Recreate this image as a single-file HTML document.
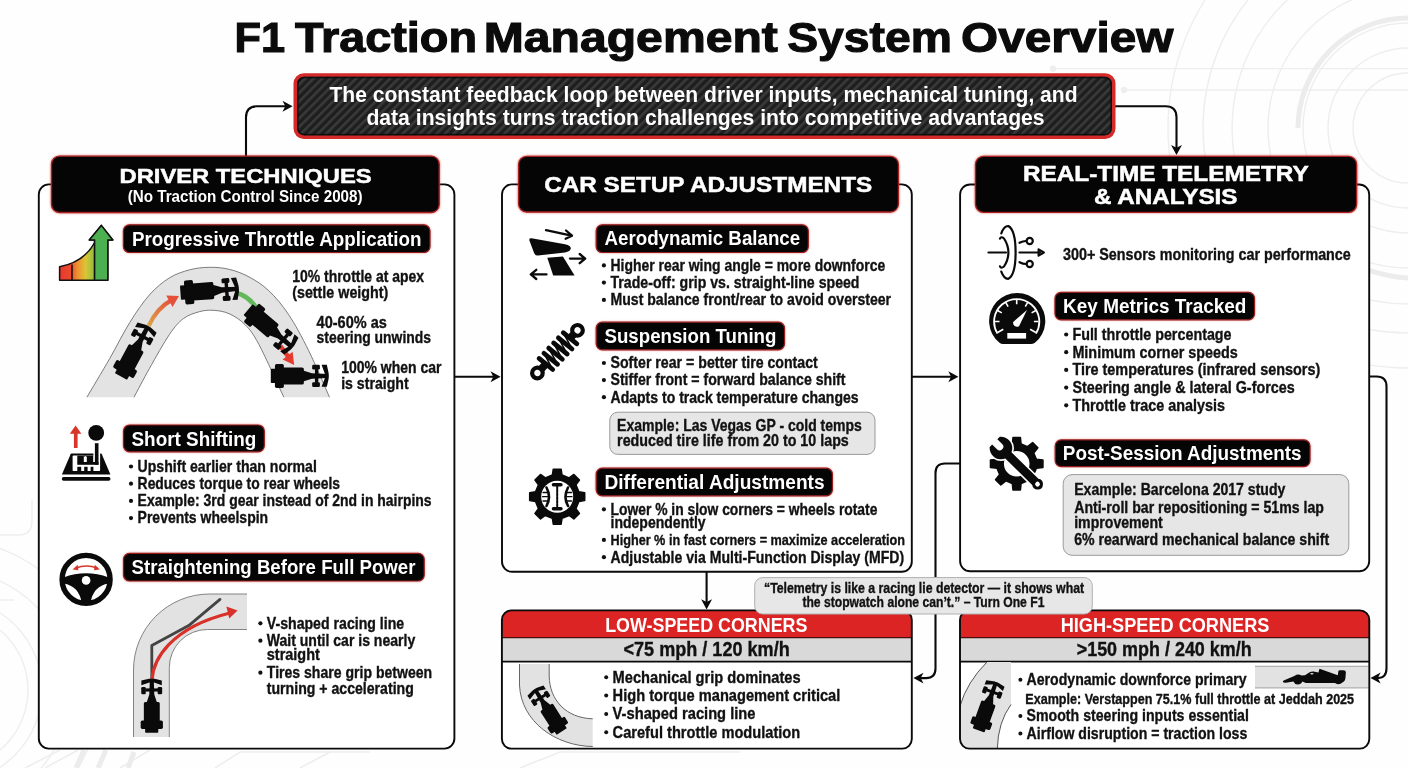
<!DOCTYPE html>
<html><head><meta charset="utf-8"><title>F1 Traction Management System Overview</title>
<style>
html,body{margin:0;padding:0;background:#fff;}
body{width:1408px;height:768px;overflow:hidden;font-family:"Liberation Sans", sans-serif;}
svg{display:block;font-family:"Liberation Sans", sans-serif;will-change:transform;transform:translateZ(0);}
</style></head><body>
<svg width="1408" height="768" viewBox="0 0 1408 768">
<defs>
<filter id="glow" x="-10%" y="-30%" width="120%" height="160%"><feGaussianBlur stdDeviation="1.3"/></filter>
<filter id="soft" x="-10%" y="-10%" width="120%" height="120%"><feGaussianBlur stdDeviation="0.5"/></filter>
<pattern id="carbon" width="6" height="6" patternUnits="userSpaceOnUse" patternTransform="rotate(-45)">
<rect width="6" height="6" fill="#1e1e1e"/><rect width="6" height="2.6" fill="#3a3a3a"/>
</pattern>
<linearGradient id="gr1" gradientUnits="userSpaceOnUse" x1="59" x2="97" y1="0" y2="0">
<stop offset="0" stop-color="#e8372c"/><stop offset="0.3" stop-color="#ea482e"/><stop offset="0.48" stop-color="#ee8f30"/><stop offset="0.7" stop-color="#dcc434"/><stop offset="0.88" stop-color="#9cc13c"/><stop offset="1" stop-color="#6bb545"/>
</linearGradient>
<linearGradient id="gr2" x1="0" x2="1" y1="1" y2="0">
<stop offset="0" stop-color="#dba54a"/><stop offset="1" stop-color="#e5503a"/>
</linearGradient>
<g id="car" fill="#0a0a0a">
<rect x="-29.2" y="-7.2" width="6" height="14.2" rx="0.8"/>
<rect x="-25" y="-12" width="9" height="6.2" rx="1.7"/>
<rect x="-25" y="5.8" width="9" height="6.2" rx="1.7"/>
<rect x="-25" y="-7.5" width="10" height="15"/>
<path d="M-17 -8.6 H2.4 Q4.2 -8.6 4.2 -7 L4.2 -5.4 L12.3 -2.7 L29 -2.1 L29 2.1 L12.3 2.7 L4.2 5.4 V7 Q4.2 8.6 2.4 8.6 H-17 Z"/>
<rect x="12.6" y="-11.4" width="7.8" height="4.9" rx="1.3"/>
<rect x="12.6" y="6.3" width="7.8" height="4.9" rx="1.3"/>
<rect x="15.4" y="-7" width="3.4" height="14"/>
<path d="M22.1 -11.3 L27.4 -11.3 L29.2 -3 L29.2 3 L27.4 10.8 L22.1 10.8 L25.3 2.6 L25.3 -2.6 Z"/>
</g>
</defs>
<rect width="1408" height="768" fill="#fefefe"/>

<g fill="none" stroke="#eeeeee" stroke-width="1.4">
<circle cx="1408" cy="128" r="55"/>
<circle cx="1408" cy="128" r="80"/>
<circle cx="1408" cy="128" r="105"/>
<circle cx="1408" cy="128" r="140"/>
<circle cx="1408" cy="128" r="176"/>
<circle cx="1408" cy="128" r="205"/>
<circle cx="1408" cy="128" r="240"/>
<path d="M1053 68.6 H1408 M1124 90 H1408"/><circle cx="1053" cy="68.6" r="2.5" fill="#eeeeee"/><circle cx="1124" cy="90" r="2.5" fill="#eeeeee"/>
<circle cx="-50" cy="690" r="78"/>
<circle cx="-50" cy="690" r="92"/>
<circle cx="-50" cy="690" r="120"/>
<circle cx="-50" cy="690" r="150"/>
<path d="M0 535 H18 Q32 535 32 521 V500 M0 600 H14"/>
</g>
<g fill="none" stroke="#ececec" stroke-width="5"><path d="M1408 18 A110 110 0 0 0 1298 128" /><path d="M1330 250 A150 150 0 0 0 1408 278"/></g>
<g fill="none" stroke="#eeeeee" stroke-width="1.6"><path d="M25 768 L60 750 M45 768 L78 750 M120 768 L150 750 M215 768 L240 752 H370 M300 768 L330 752 M520 768 L560 752 H740"/></g>
<g fill="none" stroke="#ececec" stroke-width="5"><path d="M76 768 L84 750 M98 768 L106 750 M128 768 L134 752"/></g>
<text x="234.5" y="52.2" font-size="41.8" font-weight="bold" fill="#0b0b0b" textLength="50.6" lengthAdjust="spacingAndGlyphs" stroke="#0b0b0b" stroke-width="1.1" paint-order="stroke">F1</text>
<text x="294.9" y="52.2" font-size="41.8" font-weight="bold" fill="#0b0b0b" textLength="182.2" lengthAdjust="spacingAndGlyphs" stroke="#0b0b0b" stroke-width="1.1" paint-order="stroke">Traction</text>
<text x="483.7" y="52.2" font-size="41.8" font-weight="bold" fill="#0b0b0b" textLength="294.2" lengthAdjust="spacingAndGlyphs" stroke="#0b0b0b" stroke-width="1.1" paint-order="stroke">Management</text>
<text x="787.2" y="52.2" font-size="41.8" font-weight="bold" fill="#0b0b0b" textLength="164.7" lengthAdjust="spacingAndGlyphs" stroke="#0b0b0b" stroke-width="1.1" paint-order="stroke">System</text>
<text x="961.1" y="52.2" font-size="41.8" font-weight="bold" fill="#0b0b0b" textLength="212.2" lengthAdjust="spacingAndGlyphs" stroke="#0b0b0b" stroke-width="1.1" paint-order="stroke">Overview</text>
<g fill="none" stroke="#0a0a0a" stroke-width="2.1" stroke-linecap="round">
<path d="M246 158 V117.3 Q246 106.3 257 106.3 H286"/>
<path d="M1114 106.2 H1165.5 Q1176.5 106.2 1176.5 117.2 V148"/>
<path d="M455 376.7 H494"/>
<path d="M912.5 376.7 H952"/>
<path d="M706.6 572 V602"/>
<path d="M959.5 463.5 H945 Q935.5 463.5 935.5 473 V668.6 Q935.5 678.1 926 678.1 H920"/>
<path d="M1369 376.5 H1376.5 Q1386.5 376.5 1386.5 386.5 V668 Q1386.5 678 1378 678 H1377"/>
</g>
<path d="M0 0 L-10.120000000000001 -5.46 L-7.29 0 L-10.120000000000001 5.46 Z" fill="#0a0a0a" transform="translate(292.6 106.3) rotate(0)"/>
<path d="M0 0 L-10.120000000000001 -5.46 L-7.29 0 L-10.120000000000001 5.46 Z" fill="#0a0a0a" transform="translate(1176.5 155.0) rotate(90)"/>
<path d="M0 0 L-10.120000000000001 -5.46 L-7.29 0 L-10.120000000000001 5.46 Z" fill="#0a0a0a" transform="translate(500.6 376.7) rotate(0)"/>
<path d="M0 0 L-10.120000000000001 -5.46 L-7.29 0 L-10.120000000000001 5.46 Z" fill="#0a0a0a" transform="translate(958.4 376.7) rotate(0)"/>
<path d="M0 0 L-10.120000000000001 -5.46 L-7.29 0 L-10.120000000000001 5.46 Z" fill="#0a0a0a" transform="translate(706.6 609.4) rotate(90)"/>
<path d="M0 0 L-10.120000000000001 -5.46 L-7.29 0 L-10.120000000000001 5.46 Z" fill="#0a0a0a" transform="translate(913.4 678.1) rotate(180)"/>
<path d="M0 0 L-10.120000000000001 -5.46 L-7.29 0 L-10.120000000000001 5.46 Z" fill="#0a0a0a" transform="translate(1370.5 678.0) rotate(180)"/>
<rect x="295.3" y="75" width="818.4" height="62.1" rx="8.5" fill="url(#carbon)" stroke="#d42a2a" stroke-width="3.6"/>
<rect x="297.8" y="77.5" width="813.4" height="57.1" rx="6.5" fill="none" stroke="#0a0a0a" stroke-width="1.6" opacity="0.85"/>
<text x="329.4" y="101.6" font-size="21.6" font-weight="bold" fill="#fff" textLength="748.2" lengthAdjust="spacingAndGlyphs">The constant feedback loop between driver inputs, mechanical tuning, and</text>
<text x="366.4" y="125.0" font-size="21.6" font-weight="bold" fill="#fff" textLength="678.2" lengthAdjust="spacingAndGlyphs">data insights turns traction challenges into competitive advantages</text>
<rect x="38.8" y="184.4" width="415.6" height="564.2" rx="10" fill="#fff" stroke="#0a0a0a" stroke-width="1.9"/>
<rect x="502.0" y="184.4" width="409.8" height="387.4" rx="10" fill="#fff" stroke="#0a0a0a" stroke-width="1.9"/>
<rect x="960.1" y="184.5" width="409.1" height="386.8" rx="10" fill="#fff" stroke="#0a0a0a" stroke-width="1.9"/>
<rect x="50.7" y="155.4" width="389.3" height="57.9" rx="9" fill="#d23030" filter="url(#glow)" opacity="0.7"/>
<rect x="51.5" y="156.2" width="387.7" height="56.3" rx="8" fill="#050505" stroke="#a81f1f" stroke-width="1.3"/>
<rect x="517.8" y="155.6" width="381.4" height="57.2" rx="9" fill="#d23030" filter="url(#glow)" opacity="0.7"/>
<rect x="518.6" y="156.4" width="379.8" height="55.6" rx="8" fill="#050505" stroke="#a81f1f" stroke-width="1.3"/>
<rect x="974.7" y="155.6" width="382.7" height="57.5" rx="9" fill="#d23030" filter="url(#glow)" opacity="0.7"/>
<rect x="975.5" y="156.4" width="381.1" height="55.9" rx="8" fill="#050505" stroke="#a81f1f" stroke-width="1.3"/>
<text x="119.5" y="183.3" font-size="20.6" font-weight="bold" fill="#fff" textLength="252.1" lengthAdjust="spacingAndGlyphs" stroke="#fff" stroke-width="0.5" paint-order="stroke">DRIVER TECHNIQUES</text>
<text x="127.7" y="202.4" font-size="16.3" font-weight="bold" fill="#fff" textLength="234.9" lengthAdjust="spacingAndGlyphs">(No Traction Control Since 2008)</text>
<text x="544.2" y="192.4" font-size="22.6" font-weight="bold" fill="#fff" textLength="328.0" lengthAdjust="spacingAndGlyphs" stroke="#fff" stroke-width="0.5" paint-order="stroke">CAR SETUP ADJUSTMENTS</text>
<text x="1022.9" y="181.3" font-size="21.6" font-weight="bold" fill="#fff" textLength="285.8" lengthAdjust="spacingAndGlyphs" stroke="#fff" stroke-width="0.5" paint-order="stroke">REAL-TIME TELEMETRY</text>
<text x="1093.9" y="203.9" font-size="21.6" font-weight="bold" fill="#fff" textLength="143.6" lengthAdjust="spacingAndGlyphs" stroke="#fff" stroke-width="0.5" paint-order="stroke">&amp; ANALYSIS</text>
<rect x="122.9" y="224.3" width="307.6" height="28.7" rx="7" fill="#d23030" filter="url(#glow)" opacity="0.6"/>
<rect x="123.4" y="224.8" width="306.6" height="27.7" rx="6" fill="#050505" stroke="#961c1c" stroke-width="1.2"/>
<text x="132.0" y="245.7" font-size="20.0" font-weight="bold" fill="#fff" textLength="289.5" lengthAdjust="spacingAndGlyphs">Progressive Throttle Application</text>
<g stroke="#111" stroke-width="1.5" stroke-linejoin="round">
<path d="M59.6 280.2 V266.8 Q84 262 94.6 242.6 V240 H89.3 L101.3 225.4 L112.8 240 H107.8 V280.2 Z" fill="url(#gr1)"/>
<path d="M94.6 242.6 V280.2 M72 264.5 V280.2" fill="none"/>
<path d="M94.6 240 H89.3 L101.3 225.4 L112.8 240 H107.8 V280.2 H94.6 Z" fill="#4caf50"/>
</g>
<path d="M86.9 397.2 C90.7 390.7 102.7 370.8 109.8 358.4 C116.9 346.0 123.1 333.2 129.7 322.6 C136.3 312.0 142.9 302.2 149.5 294.8 C156.1 287.4 162.8 282.0 169.4 277.9 C176.0 273.8 182.7 271.7 189.3 269.9 C195.9 268.1 202.6 267.4 209.2 267.3 C215.8 267.2 222.5 267.7 229.1 269.3 C235.7 270.9 242.4 273.3 249.0 276.9 C255.6 280.5 262.3 284.5 268.9 290.8 C275.5 297.1 282.1 304.8 288.7 314.7 C295.3 324.6 301.8 336.8 308.6 350.5 C315.4 364.2 326.0 389.4 329.5 397.2 L283.8 397.2 C279.6 388.4 265.4 356.6 258.9 344.5 C252.4 332.4 250.0 329.7 245.0 324.6 C240.0 319.5 234.4 316.1 229.1 313.7 C223.8 311.3 218.2 310.6 213.2 310.3 C208.2 310.0 204.3 310.3 199.3 311.7 C194.3 313.1 188.4 314.8 183.4 318.6 C178.4 322.4 175.1 326.2 169.4 334.5 C163.8 342.8 155.4 357.9 149.5 368.4 C143.6 378.8 136.6 392.4 134.0 397.2 Z" fill="#e3e3e3"/>
<path d="M86.9 397.2 C90.7 390.7 102.7 370.8 109.8 358.4 C116.9 346.0 123.1 333.2 129.7 322.6 C136.3 312.0 142.9 302.2 149.5 294.8 C156.1 287.4 162.8 282.0 169.4 277.9 C176.0 273.8 182.7 271.7 189.3 269.9 C195.9 268.1 202.6 267.4 209.2 267.3 C215.8 267.2 222.5 267.7 229.1 269.3 C235.7 270.9 242.4 273.3 249.0 276.9 C255.6 280.5 262.3 284.5 268.9 290.8 C275.5 297.1 282.1 304.8 288.7 314.7 C295.3 324.6 301.8 336.8 308.6 350.5 C315.4 364.2 326.0 389.4 329.5 397.2" fill="none" stroke="#6e6e6e" stroke-width="0.9"/>
<path d="M134.0 397.2 C136.6 392.4 143.6 378.8 149.5 368.4 C155.4 357.9 163.8 342.8 169.4 334.5 C175.1 326.2 178.4 322.4 183.4 318.6 C188.4 314.8 194.3 313.1 199.3 311.7 C204.3 310.3 208.2 310.0 213.2 310.3 C218.2 310.6 223.8 311.3 229.1 313.7 C234.4 316.1 240.0 319.5 245.0 324.6 C250.0 329.7 252.4 332.4 258.9 344.5 C265.4 356.6 279.6 388.4 283.8 397.2" fill="none" stroke="#6e6e6e" stroke-width="0.9"/>
<path d="M148.6 326 Q157 308 171.5 300.2" fill="none" stroke="url(#gr2)" stroke-width="4.2"/>
<path d="M179 296 L166.2 295.6 L172.6 307 Z" fill="#e5503a"/>
<path d="M237 293 Q249.5 296.5 256.5 308.5" fill="none" stroke="#62b85a" stroke-width="4.8"/>
<path d="M280 345.5 L288.5 357" fill="none" stroke="#e53b2e" stroke-width="4.6"/>
<path d="M294.2 365 L282.6 359.4 L292.6 351.8 Z" fill="#e53b2e"/>
<use href="#car" transform="translate(134.6 351.3) rotate(-61.8) scale(0.98)"/>
<use href="#car" transform="translate(209.6 290.8) rotate(-4) scale(1.0)"/>
<use href="#car" transform="translate(270.3 328.6) rotate(40.3) scale(1.0)"/>
<use href="#car" transform="translate(299.7 376.0) rotate(0) scale(0.99)"/>
<text x="292.2" y="281.5" font-size="16.2" font-weight="bold" fill="#111" textLength="131.9" lengthAdjust="spacingAndGlyphs" stroke="#111" stroke-width="0.35" paint-order="stroke">10% throttle at apex</text>
<text x="292.2" y="297.5" font-size="16.2" font-weight="bold" fill="#111" textLength="96.1" lengthAdjust="spacingAndGlyphs" stroke="#111" stroke-width="0.35" paint-order="stroke">(settle weight)</text>
<text x="316.6" y="327.7" font-size="16.2" font-weight="bold" fill="#111" textLength="70.2" lengthAdjust="spacingAndGlyphs" stroke="#111" stroke-width="0.35" paint-order="stroke">40-60% as</text>
<text x="316.6" y="343.2" font-size="16.2" font-weight="bold" fill="#111" textLength="114.4" lengthAdjust="spacingAndGlyphs" stroke="#111" stroke-width="0.35" paint-order="stroke">steering unwinds</text>
<text x="341.2" y="373.3" font-size="16.2" font-weight="bold" fill="#111" textLength="100.2" lengthAdjust="spacingAndGlyphs" stroke="#111" stroke-width="0.35" paint-order="stroke">100% when car</text>
<text x="341.2" y="389.4" font-size="16.2" font-weight="bold" fill="#111" textLength="67.4" lengthAdjust="spacingAndGlyphs" stroke="#111" stroke-width="0.35" paint-order="stroke">is straight</text>
<rect x="123.0" y="424.5" width="141.8" height="27.8" rx="7" fill="#d23030" filter="url(#glow)" opacity="0.6"/>
<rect x="123.5" y="425.0" width="140.8" height="26.8" rx="6" fill="#050505" stroke="#961c1c" stroke-width="1.2"/>
<text x="131.5" y="445.8" font-size="20.0" font-weight="bold" fill="#fff" textLength="124.9" lengthAdjust="spacingAndGlyphs">Short Shifting</text>
<circle cx="131.0" cy="466.5" r="2.1" fill="#111"/>
<text x="137.6" y="471.8" font-size="16.2" font-weight="bold" fill="#111" textLength="179.2" lengthAdjust="spacingAndGlyphs" stroke="#111" stroke-width="0.35" paint-order="stroke">Upshift earlier than normal</text>
<circle cx="131.0" cy="483.7" r="2.1" fill="#111"/>
<text x="137.6" y="489.0" font-size="16.2" font-weight="bold" fill="#111" textLength="202.4" lengthAdjust="spacingAndGlyphs" stroke="#111" stroke-width="0.35" paint-order="stroke">Reduces torque to rear wheels</text>
<circle cx="131.0" cy="500.9" r="2.1" fill="#111"/>
<text x="137.6" y="506.2" font-size="16.2" font-weight="bold" fill="#111" textLength="294.0" lengthAdjust="spacingAndGlyphs" stroke="#111" stroke-width="0.35" paint-order="stroke">Example: 3rd gear instead of 2nd in hairpins</text>
<circle cx="131.0" cy="518.1" r="2.1" fill="#111"/>
<text x="137.6" y="523.4" font-size="16.2" font-weight="bold" fill="#111" textLength="130.5" lengthAdjust="spacingAndGlyphs" stroke="#111" stroke-width="0.35" paint-order="stroke">Prevents wheelspin</text>
<g fill="#0a0a0a">
<circle cx="96.2" cy="432.9" r="7.9"/>
<path d="M71.5 453.5 Q70.9 453.5 70.6 454.2 L61.9 474.6 H110.4 L101.8 454.2 Q101.5 453.5 100.8 453.5 Z"/>
<rect x="61.8" y="477.1" width="48.7" height="3.6" rx="1.8"/>
</g>
<rect x="72.6" y="455.6" width="27.5" height="15.5" rx="0.8" fill="#fff"/>
<rect x="93.4" y="450" width="6.7" height="8" fill="#fff"/>
<g fill="#0a0a0a">
<rect x="94.9" y="443.2" width="3.6" height="21.5"/>
<rect x="77.3" y="462" width="21.2" height="2.8"/>
<rect x="77.3" y="455.6" width="6.5" height="7"/><rect x="86.8" y="455.6" width="6.4" height="7"/>
<path d="M83.8 455.6 H86.8 V457 L85.3 455.9 L83.8 457 Z"/>
<rect x="77.3" y="466.8" width="3.9" height="4.3"/><rect x="84.2" y="466.8" width="3.4" height="4.3"/><rect x="90.6" y="466.8" width="2.8" height="4.3"/>
</g>
<path d="M73.9 447.9 H77.6 V433.7 H81.4 L75.6 425.6 L69.8 433.7 H73.9 Z" fill="#d8362b"/>
<rect x="123.0" y="552.8" width="301.7" height="28.7" rx="7" fill="#d23030" filter="url(#glow)" opacity="0.6"/>
<rect x="123.5" y="553.3" width="300.7" height="27.7" rx="6" fill="#050505" stroke="#961c1c" stroke-width="1.2"/>
<text x="131.5" y="574.2" font-size="20.0" font-weight="bold" fill="#fff" textLength="284.0" lengthAdjust="spacingAndGlyphs">Straightening Before Full Power</text>
<g>
<circle cx="86.1" cy="579.4" r="24" fill="#fff" stroke="#0a0a0a" stroke-width="5.4"/>
<path d="M63.5 577.4 Q86 569 108.7 577.4 L108.7 583.6 Q93 586 90.4 603.5 H81.8 Q79.2 586 63.5 583.6 Z" fill="#0a0a0a"/>
<circle cx="86.1" cy="580.4" r="4.3" fill="#fff"/>
<path d="M75.5 568.2 Q86.5 563.6 97.5 568.2" fill="none" stroke="#d8362b" stroke-width="1.5"/>
<path d="M72.6 569.6 L77.6 564.8 L78.4 570.2 Z M99.8 569.6 L94.8 564.8 L94 570.2 Z" fill="#d8362b"/>
</g>
<path d="M133.5 737 V670 A76 76 0 0 1 209.5 594 H247 V629.5 H207.3 A38 38 0 0 0 169.3 667.5 V737 Z" fill="#e2e2e2"/>
<path d="M133.5 737 V670 A76 76 0 0 1 209.5 594 H247 M247 629.5 H207.3 A38 38 0 0 0 169.3 667.5 V737" fill="none" stroke="#777" stroke-width="0.9"/>
<path d="M151.8 680 V645.4 L188.75 625.6 L220 599.4" fill="none" stroke="#444" stroke-width="2.8" stroke-linejoin="round" stroke-linecap="round"/>
<path d="M152 680 C153 660 170 628 229 613.2" fill="none" stroke="#d8312a" stroke-width="3.2"/>
<path d="M237.6 610.6 L226.4 606.4 L229.2 618.6 Z" fill="#d8312a"/>
<use href="#car" transform="translate(151.8 705.8) rotate(-90) scale(0.925)"/>
<circle cx="260.4" cy="623.3" r="2.1" fill="#111"/>
<text x="266.8" y="628.6" font-size="16.2" font-weight="bold" fill="#111" textLength="137.4" lengthAdjust="spacingAndGlyphs" stroke="#111" stroke-width="0.35" paint-order="stroke">V-shaped racing line</text>
<circle cx="260.4" cy="640.7" r="2.1" fill="#111"/>
<text x="266.8" y="646.0" font-size="16.2" font-weight="bold" fill="#111" textLength="148.4" lengthAdjust="spacingAndGlyphs" stroke="#111" stroke-width="0.35" paint-order="stroke">Wait until car is nearly</text>
<text x="266.8" y="660.4" font-size="16.2" font-weight="bold" fill="#111" textLength="53.0" lengthAdjust="spacingAndGlyphs" stroke="#111" stroke-width="0.35" paint-order="stroke">straight</text>
<circle cx="260.4" cy="672.7" r="2.1" fill="#111"/>
<text x="266.8" y="678.0" font-size="16.2" font-weight="bold" fill="#111" textLength="165.4" lengthAdjust="spacingAndGlyphs" stroke="#111" stroke-width="0.35" paint-order="stroke">Tires share grip between</text>
<text x="266.8" y="693.6" font-size="16.2" font-weight="bold" fill="#111" textLength="147.0" lengthAdjust="spacingAndGlyphs" stroke="#111" stroke-width="0.35" paint-order="stroke">turning + accelerating</text>
<rect x="595.7" y="224.3" width="213.1" height="28.7" rx="7" fill="#d23030" filter="url(#glow)" opacity="0.6"/>
<rect x="596.2" y="224.8" width="212.1" height="27.7" rx="6" fill="#050505" stroke="#961c1c" stroke-width="1.2"/>
<text x="604.5" y="245.2" font-size="20.0" font-weight="bold" fill="#fff" textLength="195.7" lengthAdjust="spacingAndGlyphs">Aerodynamic Balance</text>
<circle cx="603.9" cy="265.4" r="2.1" fill="#111"/>
<text x="610.5" y="270.7" font-size="16.2" font-weight="bold" fill="#111" textLength="274.7" lengthAdjust="spacingAndGlyphs" stroke="#111" stroke-width="0.35" paint-order="stroke">Higher rear wing angle = more downforce</text>
<circle cx="603.9" cy="282.6" r="2.1" fill="#111"/>
<text x="610.5" y="287.9" font-size="16.2" font-weight="bold" fill="#111" textLength="249.0" lengthAdjust="spacingAndGlyphs" stroke="#111" stroke-width="0.35" paint-order="stroke">Trade-off: grip vs. straight-line speed</text>
<circle cx="603.9" cy="299.9" r="2.1" fill="#111"/>
<text x="610.5" y="305.2" font-size="16.2" font-weight="bold" fill="#111" textLength="280.6" lengthAdjust="spacingAndGlyphs" stroke="#111" stroke-width="0.35" paint-order="stroke">Must balance front/rear to avoid oversteer</text>
<g fill="#0a0a0a">
<path d="M529.3 240.2 Q528.8 237.8 531.5 238.2 L565 244.2 Q571.2 245.6 570.8 248.6 Q570.4 251.6 565 252.4 L538 255.6 Q535.2 255.8 534.2 253.2 Z"/>
<path d="M547.3 257.8 L562.9 256.6 L574.6 275.4 L553.2 275.4 Z"/>
</g>
<g fill="none" stroke="#0a0a0a" stroke-width="2.3" stroke-linecap="round" stroke-linejoin="round">
<path d="M546 230.2 L571.5 235.6 M566 230.5 L572 235.7 L565.6 238.8"/>
<path d="M570 258.6 H585 M579.7 254 L585.2 258.6 L579.7 263.2"/>
<path d="M546.5 274.4 H531 M536.3 269.8 L530.8 274.4 L536.3 279"/>
</g>
<rect x="595.7" y="321.7" width="189.3" height="28.6" rx="7" fill="#d23030" filter="url(#glow)" opacity="0.6"/>
<rect x="596.2" y="322.2" width="188.3" height="27.6" rx="6" fill="#050505" stroke="#961c1c" stroke-width="1.2"/>
<text x="604.5" y="342.8" font-size="20.0" font-weight="bold" fill="#fff" textLength="171.9" lengthAdjust="spacingAndGlyphs">Suspension Tuning</text>
<circle cx="603.9" cy="363.0" r="2.1" fill="#111"/>
<text x="610.5" y="368.3" font-size="16.2" font-weight="bold" fill="#111" textLength="207.3" lengthAdjust="spacingAndGlyphs" stroke="#111" stroke-width="0.35" paint-order="stroke">Softer rear = better tire contact</text>
<circle cx="603.9" cy="380.1" r="2.1" fill="#111"/>
<text x="610.5" y="385.4" font-size="16.2" font-weight="bold" fill="#111" textLength="235.0" lengthAdjust="spacingAndGlyphs" stroke="#111" stroke-width="0.35" paint-order="stroke">Stiffer front = forward balance shift</text>
<circle cx="603.9" cy="397.2" r="2.1" fill="#111"/>
<text x="610.5" y="402.5" font-size="16.2" font-weight="bold" fill="#111" textLength="248.1" lengthAdjust="spacingAndGlyphs" stroke="#111" stroke-width="0.35" paint-order="stroke">Adapts to track temperature changes</text>
<g transform="translate(537.4 373) rotate(-46.8)">
<rect x="4" y="-3.8" width="10" height="7.6" fill="#0a0a0a"/><rect x="46" y="-3.8" width="9" height="7.6" fill="#0a0a0a"/>
<circle cx="0" cy="0" r="5.3" fill="#fff" stroke="#0a0a0a" stroke-width="4.2"/>
<circle cx="58.6" cy="0" r="5.3" fill="#fff" stroke="#0a0a0a" stroke-width="4.2"/>
<g stroke="#0a0a0a" stroke-width="4.7" stroke-linecap="round" fill="none">
<path d="M11.8 -8.8 L13.0 8.8"/>
<path d="M18.9 -8.8 L20.1 8.8"/>
<path d="M25.9 -8.8 L27.1 8.8"/>
<path d="M33.0 -8.8 L34.2 8.8"/>
<path d="M40.0 -8.8 L41.2 8.8"/>
<path d="M47.1 -8.8 L48.3 8.8"/>
</g>
<g stroke="#0a0a0a" stroke-width="1.6" fill="none">
<path d="M13.0 8.8 L18.9 -8.8"/>
<path d="M20.1 8.8 L25.9 -8.8"/>
<path d="M27.1 8.8 L33.0 -8.8"/>
<path d="M34.2 8.8 L40.0 -8.8"/>
<path d="M41.2 8.8 L47.1 -8.8"/>
</g></g>
<rect x="609.8" y="412.2" width="265.2" height="42.2" rx="8" fill="#e6e6e6" stroke="#9a9a9a" stroke-width="1"/>
<text x="617.1" y="430.6" font-size="16.2" font-weight="bold" fill="#111" textLength="244.7" lengthAdjust="spacingAndGlyphs" stroke="#111" stroke-width="0.35" paint-order="stroke">Example: Las Vegas GP - cold temps</text>
<text x="617.1" y="446.0" font-size="16.2" font-weight="bold" fill="#111" textLength="231.7" lengthAdjust="spacingAndGlyphs" stroke="#111" stroke-width="0.35" paint-order="stroke">reduced tire life from 20 to 10 laps</text>
<rect x="595.7" y="467.7" width="237.2" height="28.6" rx="7" fill="#d23030" filter="url(#glow)" opacity="0.6"/>
<rect x="596.2" y="468.2" width="236.2" height="27.6" rx="6" fill="#050505" stroke="#961c1c" stroke-width="1.2"/>
<text x="604.5" y="488.6" font-size="20.0" font-weight="bold" fill="#fff" textLength="220.1" lengthAdjust="spacingAndGlyphs">Differential Adjustments</text>
<circle cx="603.9" cy="509.3" r="2.1" fill="#111"/>
<text x="610.5" y="514.6" font-size="16.2" font-weight="bold" fill="#111" textLength="266.9" lengthAdjust="spacingAndGlyphs" stroke="#111" stroke-width="0.35" paint-order="stroke">Lower % in slow corners = wheels rotate</text>
<text x="610.5" y="528.4" font-size="16.2" font-weight="bold" fill="#111" textLength="95.1" lengthAdjust="spacingAndGlyphs" stroke="#111" stroke-width="0.35" paint-order="stroke">independently</text>
<circle cx="603.9" cy="539.9" r="2.1" fill="#111"/>
<text x="610.5" y="545.2" font-size="15.2" font-weight="bold" fill="#111" textLength="294.5" lengthAdjust="spacingAndGlyphs" stroke="#111" stroke-width="0.35" paint-order="stroke">Higher % in fast corners = maximize acceleration</text>
<circle cx="603.9" cy="557.2" r="2.1" fill="#111"/>
<text x="610.5" y="562.5" font-size="16.2" font-weight="bold" fill="#111" textLength="293.6" lengthAdjust="spacingAndGlyphs" stroke="#111" stroke-width="0.35" paint-order="stroke">Adjustable via Multi-Function Display (MFD)</text>
<path d="M562.04 518.37 L561.12 524.22 L553.28 524.22 L552.36 518.37 L545.30 515.44 L540.51 518.93 L534.97 513.39 L538.46 508.60 L535.53 501.54 L529.68 500.62 L529.68 492.78 L535.53 491.86 L538.46 484.80 L534.97 480.01 L540.51 474.47 L545.30 477.96 L552.36 475.03 L553.28 469.18 L561.12 469.18 L562.04 475.03 L569.10 477.96 L573.89 474.47 L579.43 480.01 L575.94 484.80 L578.87 491.86 L584.72 492.78 L584.72 500.62 L578.87 501.54 L575.94 508.60 L579.43 513.39 L573.89 518.93 L569.10 515.44 Z" fill="#0a0a0a" stroke="#0a0a0a" stroke-width="1.5" stroke-linejoin="round"/>
<circle cx="557.2" cy="496.7" r="16" fill="#fff"/>
<g stroke="#0a0a0a" fill="none" stroke-linecap="round">
<path d="M553.4 484.8 H561 M553.4 508.8 H561" stroke-width="3.4"/>
<path d="M557.2 486 V507" stroke-width="2" stroke-dasharray="2.6 1"/>
<path d="M546.5 487.5 Q551.5 496.7 546.5 506 M568 487.5 Q563 496.7 568 506" stroke-width="2.6"/>
<path d="M543 492.5 H548 M542.5 496.7 H548.5 M543 501 H548 M566.5 492.5 H571.5 M566 496.7 H572 M566.5 501 H571.5" stroke-width="1.3"/>
</g>
<text x="1063.0" y="259.6" font-size="16.2" font-weight="bold" fill="#111" textLength="287.8" lengthAdjust="spacingAndGlyphs" stroke="#111" stroke-width="0.35" paint-order="stroke">300+ Sensors monitoring car performance</text>
<g fill="none" stroke="#0a0a0a" stroke-width="2.2" stroke-linecap="round" stroke-linejoin="round">
<path d="M988.5 252.5 H1006"/>
<path d="M1000 238.6 Q1001 236 1004 238.5 Q1008.4 245 1008.4 252.5 Q1008.4 260 1004 266.5 Q1001 269 1000 266.4"/>
<path d="M1001.3 233.4 Q1004 225.8 1008.3 226 Q1015.6 230 1015.6 252.5 Q1015.6 275 1008.3 278.8 Q1004 279 1001.3 271.6"/>
<path d="M1019.5 252.5 H1040"/>
<path d="M1038.6 249.4 L1043.8 252.5 L1038.6 255.6 Z"/>
<path d="M1019.5 242.8 Q1023 241 1026 241"/><circle cx="1029.7" cy="241" r="3.1"/>
<path d="M1019.5 262.2 Q1023 264 1026 264"/><circle cx="1029.7" cy="264" r="3.1"/>
</g>
<rect x="1054.5" y="291.9" width="200.5" height="28.4" rx="7" fill="#d23030" filter="url(#glow)" opacity="0.6"/>
<rect x="1055.0" y="292.4" width="199.5" height="27.4" rx="6" fill="#050505" stroke="#961c1c" stroke-width="1.2"/>
<text x="1063.1" y="312.6" font-size="20.0" font-weight="bold" fill="#fff" textLength="183.3" lengthAdjust="spacingAndGlyphs">Key Metrics Tracked</text>
<circle cx="1066.2" cy="334.5" r="2.1" fill="#111"/>
<text x="1072.4" y="339.8" font-size="16.2" font-weight="bold" fill="#111" textLength="159.2" lengthAdjust="spacingAndGlyphs" stroke="#111" stroke-width="0.35" paint-order="stroke">Full throttle percentage</text>
<circle cx="1066.2" cy="352.2" r="2.1" fill="#111"/>
<text x="1072.4" y="357.5" font-size="16.2" font-weight="bold" fill="#111" textLength="165.4" lengthAdjust="spacingAndGlyphs" stroke="#111" stroke-width="0.35" paint-order="stroke">Minimum corner speeds</text>
<circle cx="1066.2" cy="369.9" r="2.1" fill="#111"/>
<text x="1072.4" y="375.2" font-size="16.2" font-weight="bold" fill="#111" textLength="247.8" lengthAdjust="spacingAndGlyphs" stroke="#111" stroke-width="0.35" paint-order="stroke">Tire temperatures (infrared sensors)</text>
<circle cx="1066.2" cy="387.6" r="2.1" fill="#111"/>
<text x="1072.4" y="392.9" font-size="16.2" font-weight="bold" fill="#111" textLength="222.3" lengthAdjust="spacingAndGlyphs" stroke="#111" stroke-width="0.35" paint-order="stroke">Steering angle &amp; lateral G-forces</text>
<circle cx="1066.2" cy="405.3" r="2.1" fill="#111"/>
<text x="1072.4" y="410.6" font-size="16.2" font-weight="bold" fill="#111" textLength="152.6" lengthAdjust="spacingAndGlyphs" stroke="#111" stroke-width="0.35" paint-order="stroke">Throttle trace analysis</text>
<path d="M999.5 342.8 A28.1 28.1 0 1 1 1034.9 342.8 Q1033 344 1031 344 H1003 Q1001 344 999.5 342.8 Z" fill="#0a0a0a"/>
<g fill="none" stroke="#fff" stroke-linecap="butt">
<path d="M997.5 333.6 A22.6 22.6 0 1 1 1035.9 333.6" stroke-width="1.8"/>
<path d="M1003.3 329.2 L997.6 332.5 M999.5 321.5 L994.7 321.5 M1001.8 312.9 L997.6 310.5 M1008.1 306.6 L1005.7 302.4 M1016.7 304.3 L1016.7 299.5 M1025.3 306.6 L1027.7 302.4 M1031.6 312.9 L1035.8 310.5 M1033.9 321.5 L1038.7 321.5 M1030.1 329.2 L1035.8 332.5" stroke-width="1.6"/>
</g>
<path d="M1013.2 322 L1027 310 L1019 326.2 A3.9 3.9 0 0 1 1013.2 322 Z" fill="#fff"/>
<rect x="1007.3" y="333" width="18.8" height="5.6" fill="#fff"/>
<rect x="1054.7" y="439.4" width="255.8" height="27.7" rx="7" fill="#d23030" filter="url(#glow)" opacity="0.6"/>
<rect x="1055.2" y="439.9" width="254.8" height="26.7" rx="6" fill="#050505" stroke="#961c1c" stroke-width="1.2"/>
<text x="1062.8" y="459.7" font-size="20.0" font-weight="bold" fill="#fff" textLength="238.8" lengthAdjust="spacingAndGlyphs">Post-Session Adjustments</text>
<rect x="1063.2" y="474.6" width="285.6" height="80.7" rx="9" fill="#e6e6e6" stroke="#9a9a9a" stroke-width="1"/>
<text x="1074.2" y="495.3" font-size="16.2" font-weight="bold" fill="#111" textLength="211.2" lengthAdjust="spacingAndGlyphs" stroke="#111" stroke-width="0.35" paint-order="stroke">Example: Barcelona 2017 study</text>
<text x="1074.2" y="512.7" font-size="16.2" font-weight="bold" fill="#111" textLength="249.7" lengthAdjust="spacingAndGlyphs" stroke="#111" stroke-width="0.35" paint-order="stroke">Anti-roll bar repositioning = 51ms lap</text>
<text x="1074.2" y="527.6" font-size="16.2" font-weight="bold" fill="#111" textLength="88.6" lengthAdjust="spacingAndGlyphs" stroke="#111" stroke-width="0.35" paint-order="stroke">improvement</text>
<text x="1074.2" y="544.5" font-size="16.2" font-weight="bold" fill="#111" textLength="254.9" lengthAdjust="spacingAndGlyphs" stroke="#111" stroke-width="0.35" paint-order="stroke">6% rearward mechanical balance shift</text>
<path d="M1036.41 459.34 L1042.94 460.02 L1042.94 467.48 L1036.41 468.16 L1033.76 474.57 L1037.89 479.66 L1032.61 484.94 L1027.52 480.81 L1021.11 483.46 L1020.43 489.99 L1012.97 489.99 L1012.29 483.46 L1005.88 480.81 L1000.79 484.94 L995.51 479.66 L999.64 474.57 L996.99 468.16 L990.46 467.48 L990.46 460.02 L996.99 459.34 L999.64 452.93 L995.51 447.84 L1000.79 442.56 L1005.88 446.69 L1012.29 444.04 L1012.97 437.51 L1020.43 437.51 L1021.11 444.04 L1027.52 446.69 L1032.61 442.56 L1037.89 447.84 L1033.76 452.93 Z" fill="#0a0a0a" stroke="#0a0a0a" stroke-width="1.5" stroke-linejoin="round"/>
<circle cx="1016.7" cy="463.75" r="12.8" fill="#fff"/>
<g transform="translate(1001 448.1) rotate(44.6)">
<path d="M-8.8 -7.2 A11.4 11.4 0 0 1 10.4 -4.4 L48.2 -4.4 A5.4 5.4 0 1 1 48.2 4.4 L10.4 4.4 A11.4 11.4 0 0 1 -8.8 7.2 L-8.8 3.7 L-2 3.7 A3.7 3.7 0 0 0 -2 -3.7 L-8.8 -3.7 Z" fill="#fff" stroke="#fff" stroke-width="3.2" stroke-linejoin="round"/>
<circle cx="-1" cy="0" r="11.6" fill="#fff"/>
<path d="M-8.8 -7.2 A11.4 11.4 0 0 1 10.4 -4.4 L48.2 -4.4 A5.4 5.4 0 1 1 48.2 4.4 L10.4 4.4 A11.4 11.4 0 0 1 -8.8 7.2 L-8.8 3.7 L-2 3.7 A3.7 3.7 0 0 0 -2 -3.7 L-8.8 -3.7 Z" fill="#0a0a0a"/>
<circle cx="51.3" cy="0" r="2.4" fill="#fff"/>
</g>
<clipPath id="cp501"><rect x="501.9" y="610.4" width="409.9" height="138.10000000000002" rx="9.5"/></clipPath>
<g clip-path="url(#cp501)">
<rect x="501.9" y="610.4" width="409.9" height="138.10000000000002" fill="#fff"/>
<rect x="501.9" y="610.4" width="409.9" height="27.3" fill="#dc2424"/>
<rect x="501.9" y="637.7" width="409.9" height="24" fill="#d9d9d9"/>
<path d="M501.9 637.7 H911.8" stroke="#4a0d0d" stroke-width="1.3"/><path d="M501.9 661.7 H911.8" stroke="#0a0a0a" stroke-width="1.7"/>
</g>
<text x="605.2" y="631.9" font-size="19.4" font-weight="bold" fill="#fff" textLength="202.2" lengthAdjust="spacingAndGlyphs">LOW-SPEED CORNERS</text>
<text x="623.5" y="656.3" font-size="19.4" font-weight="bold" fill="#111" textLength="166.2" lengthAdjust="spacingAndGlyphs" stroke="#111" stroke-width="0.35" paint-order="stroke">&lt;75 mph / 120 km/h</text>
<clipPath id="cp960"><rect x="960" y="610.4" width="409.29999999999995" height="138.10000000000002" rx="9.5"/></clipPath>
<g clip-path="url(#cp960)">
<rect x="960" y="610.4" width="409.29999999999995" height="138.10000000000002" fill="#fff"/>
<rect x="960" y="610.4" width="409.29999999999995" height="27.3" fill="#dc2424"/>
<rect x="960" y="637.7" width="409.29999999999995" height="24" fill="#d9d9d9"/>
<path d="M960 637.7 H1369.3" stroke="#4a0d0d" stroke-width="1.3"/><path d="M960 661.7 H1369.3" stroke="#0a0a0a" stroke-width="1.7"/>
</g>
<text x="1060.7" y="631.9" font-size="19.4" font-weight="bold" fill="#fff" textLength="208.7" lengthAdjust="spacingAndGlyphs">HIGH-SPEED CORNERS</text>
<text x="1076.7" y="656.3" font-size="19.4" font-weight="bold" fill="#111" textLength="175.0" lengthAdjust="spacingAndGlyphs" stroke="#111" stroke-width="0.35" paint-order="stroke">&gt;150 mph / 240 km/h</text>
<path d="M519.5 664 V685 C521 722 556 746 592.7 746.5 V718.8 C566 718 549.5 700 549.2 676 V664 Z" fill="#e2e2e2"/>
<path d="M519.5 664 V685 C521 722 556 746 592.7 746.5 M592.7 718.8 C566 718 549.5 700 549.2 676 V664" fill="none" stroke="#666" stroke-width="1"/>
<use href="#car" transform="translate(548.3 710.3) rotate(-122.5) scale(0.86)"/>
<circle cx="606.2" cy="677.2" r="2.0" fill="#111"/>
<text x="612.6" y="682.5" font-size="17" font-weight="bold" fill="#111" textLength="188.0" lengthAdjust="spacingAndGlyphs" stroke="#111" stroke-width="0.35" paint-order="stroke">Mechanical grip dominates</text>
<circle cx="606.2" cy="695.6" r="2.0" fill="#111"/>
<text x="612.6" y="700.9" font-size="17" font-weight="bold" fill="#111" textLength="227.7" lengthAdjust="spacingAndGlyphs" stroke="#111" stroke-width="0.35" paint-order="stroke">High torque management critical</text>
<circle cx="606.2" cy="713.9" r="2.0" fill="#111"/>
<text x="612.6" y="719.2" font-size="17" font-weight="bold" fill="#111" textLength="142.9" lengthAdjust="spacingAndGlyphs" stroke="#111" stroke-width="0.35" paint-order="stroke">V-shaped racing line</text>
<circle cx="606.2" cy="732.3" r="2.0" fill="#111"/>
<text x="612.6" y="737.6" font-size="17" font-weight="bold" fill="#111" textLength="187.6" lengthAdjust="spacingAndGlyphs" stroke="#111" stroke-width="0.35" paint-order="stroke">Careful throttle modulation</text>
<clipPath id="cphs"><rect x="960" y="662" width="60" height="86.5" rx="0"/></clipPath>
<g clip-path="url(#cp960)">
<path d="M987 662 Q967 682 960 706 V749 H997.3 Q998 722 1011 704.5 V662 Z" fill="#e2e2e2"/>
<path d="M987 662 Q967 682 960 706 M997.3 749 Q998 722 1011 704.5" fill="none" stroke="#555" stroke-width="1"/>
</g>
<use href="#car" transform="translate(987.4 706.2) rotate(-70.2) scale(0.88)"/>
<circle cx="1020.4" cy="679.7" r="2.0" fill="#111"/>
<text x="1026.6" y="685.0" font-size="17" font-weight="bold" fill="#111" textLength="220.0" lengthAdjust="spacingAndGlyphs" stroke="#111" stroke-width="0.35" paint-order="stroke">Aerodynamic downforce primary</text>
<text x="1025.3" y="703.6" font-size="14.6" font-weight="bold" fill="#111" textLength="328.8" lengthAdjust="spacingAndGlyphs" stroke="#111" stroke-width="0.35" paint-order="stroke">Example: Verstappen 75.1% full throttle at Jeddah 2025</text>
<circle cx="1020.4" cy="716.0" r="2.0" fill="#111"/>
<text x="1026.6" y="721.3" font-size="17" font-weight="bold" fill="#111" textLength="222.3" lengthAdjust="spacingAndGlyphs" stroke="#111" stroke-width="0.35" paint-order="stroke">Smooth steering inputs essential</text>
<circle cx="1020.4" cy="733.6" r="2.0" fill="#111"/>
<text x="1026.6" y="738.9" font-size="17" font-weight="bold" fill="#111" textLength="220.7" lengthAdjust="spacingAndGlyphs" stroke="#111" stroke-width="0.35" paint-order="stroke">Airflow disruption = traction loss</text>
<rect x="1255" y="666.2" width="113.5" height="21.8" fill="#e2e2e2"/>
<path d="M1255 666.4 H1368.5 M1255 687.9 H1368.5" stroke="#b0b0b0" stroke-width="1.2"/>
<path d="M1282.8 681.6 Q1283 680.2 1286 679.4 L1294.3 676 Q1296.5 674.6 1298.3 674.6 Q1300 674.6 1301.5 675.6 L1305 675.2 L1309.6 672.2 Q1311.5 671.2 1313.5 671.5 L1318.4 672.6 L1319.5 668.7 L1337.8 675.3 L1338.4 671 Q1338.6 670.3 1340 670.3 L1343.5 670.2 Q1345.8 670.4 1345.9 672.3 L1345.4 678.5 Q1345 681.5 1342.4 682.6 Q1340.5 684.4 1338 684.2 Q1336 684 1335 683 L1305.8 683 L1302.4 681.5 Q1301 684.6 1297.6 684.5 Q1294.4 684.3 1293.4 681.6 L1286 682.8 Q1283 683 1282.8 681.6 Z" fill="#0a0a0a"/>
<ellipse cx="1311.9" cy="673.7" rx="1.7" ry="0.8" fill="#e2e2e2"/>
<rect x="501.9" y="610.4" width="409.9" height="138.2" rx="9.5" fill="none" stroke="#0a0a0a" stroke-width="1.9"/>
<rect x="960" y="610.4" width="409.3" height="138.2" rx="9.5" fill="none" stroke="#0a0a0a" stroke-width="1.9"/>
<rect x="754.7" y="577.6" width="337.6" height="36.4" rx="8" fill="#e7e7e7" stroke="#b0b0b0" stroke-width="1"/>
<text x="764.0" y="593.2" font-size="14.4" font-weight="bold" fill="#111" textLength="320.1" lengthAdjust="spacingAndGlyphs" stroke="#111" stroke-width="0.35" paint-order="stroke">“Telemetry is like a racing lie detector — it shows what</text>
<text x="802.4" y="607.4" font-size="14.4" font-weight="bold" fill="#111" textLength="242.0" lengthAdjust="spacingAndGlyphs" stroke="#111" stroke-width="0.35" paint-order="stroke">the stopwatch alone can’t.” – Turn One F1</text>
</svg></body></html>
